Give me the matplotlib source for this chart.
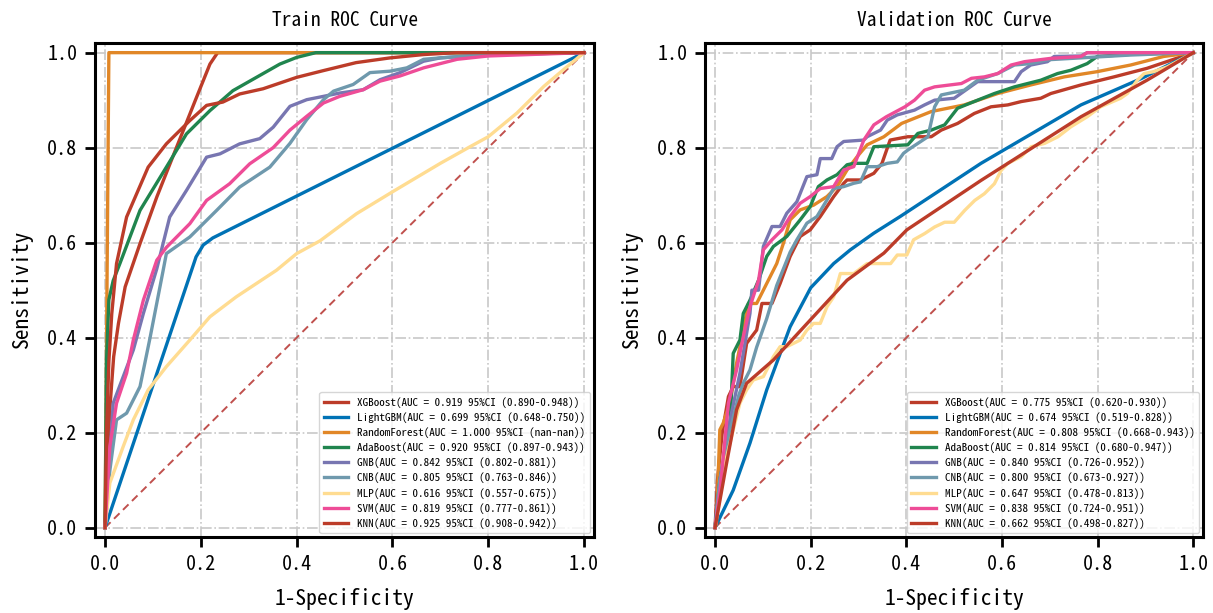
import matplotlib
matplotlib.use("Agg")
import matplotlib.pyplot as plt

# ---------------- data ----------------
models = ["XGBoost", "LightGBM", "RandomForest", "AdaBoost", "GNB", "CNB", "MLP", "SVM", "KNN"]
colors = ["#BC3C29", "#0072B5", "#E18727", "#20854E", "#7876B1", "#6F99AD", "#FFDC91", "#EE4C97", "#BC3C29"]

train_auc = ["0.919", "0.699", "1.000", "0.920", "0.842", "0.805", "0.616", "0.819", "0.925"]
train_ci = ["0.890-0.948", "0.648-0.750", "nan-nan", "0.897-0.943", "0.802-0.881",
            "0.763-0.846", "0.557-0.675", "0.777-0.861", "0.908-0.942"]
val_auc = ["0.775", "0.674", "0.808", "0.814", "0.840", "0.800", "0.647", "0.838", "0.662"]
val_ci = ["0.620-0.930", "0.519-0.828", "0.668-0.943", "0.680-0.947", "0.726-0.952",
          "0.673-0.927", "0.478-0.813", "0.724-0.951", "0.498-0.827"]

# ---- train curves ----
tr_xgb_fpr = [0, 0.004, 0.01, 0.018, 0.028, 0.042, 0.073, 0.108, 0.149, 0.191, 0.219, 0.235, 1]
tr_xgb_tpr = [0, 0.12, 0.25, 0.36, 0.43, 0.507, 0.598, 0.696, 0.80, 0.906, 0.976, 1, 1]
tr_lgb_fpr = [0, 0.19, 0.205, 0.225, 1]
tr_lgb_tpr = [0, 0.57, 0.595, 0.61, 1]
tr_rf_fpr = [0, 0.008, 1]
tr_rf_tpr = [0, 1, 1]
tr_ada_fpr = [0, 0.003, 0.008, 0.017, 0.031, 0.073, 0.128, 0.17, 0.219, 0.267, 0.316, 0.365, 0.40, 0.44, 1]
tr_ada_tpr = [0, 0.35, 0.48, 0.52, 0.556, 0.668, 0.759, 0.829, 0.878, 0.92, 0.948, 0.976, 0.99, 1, 1]
tr_gnb_fpr = [0, 0.007, 0.017, 0.038, 0.059, 0.08, 0.108, 0.135, 0.17, 0.212, 0.24, 0.281, 0.323, 0.351,
              0.386, 0.421, 0.456, 0.49, 0.539, 0.574, 0.616, 0.665, 0.70, 0.80, 1]
tr_gnb_tpr = [0, 0.10, 0.262, 0.318, 0.374, 0.451, 0.545, 0.654, 0.71, 0.78, 0.787, 0.808, 0.819, 0.843,
              0.887, 0.901, 0.908, 0.915, 0.922, 0.943, 0.958, 0.982, 0.989, 0.996, 1]
tr_cnb_fpr = [0, 0.01, 0.024, 0.045, 0.073, 0.094, 0.121, 0.128, 0.177, 0.233, 0.281, 0.344, 0.386, 0.421,
              0.456, 0.477, 0.518, 0.553, 0.595, 0.63, 0.665, 0.70, 0.804, 1]
tr_cnb_tpr = [0, 0.12, 0.227, 0.241, 0.297, 0.40, 0.54, 0.577, 0.612, 0.668, 0.717, 0.759, 0.809, 0.859,
              0.901, 0.919, 0.933, 0.958, 0.961, 0.968, 0.986, 0.989, 0.996, 1]
tr_mlp_fpr = [0, 0.01, 0.038, 0.059, 0.09, 0.128, 0.177, 0.219, 0.274, 0.358, 0.40, 0.449, 0.525, 0.60,
              0.70, 0.762, 0.80, 0.86, 0.916, 0.958, 1]
tr_mlp_tpr = [0, 0.094, 0.171, 0.227, 0.29, 0.339, 0.395, 0.444, 0.486, 0.542, 0.577, 0.604, 0.661, 0.707,
              0.767, 0.802, 0.823, 0.873, 0.929, 0.965, 1]
tr_svm_fpr = [0, 0.01, 0.024, 0.045, 0.059, 0.08, 0.108, 0.128, 0.177, 0.212, 0.26, 0.302, 0.351, 0.386,
              0.421, 0.456, 0.49, 0.539, 0.574, 0.616, 0.665, 0.735, 0.80, 1]
tr_svm_tpr = [0, 0.171, 0.262, 0.325, 0.395, 0.479, 0.563, 0.59, 0.64, 0.689, 0.724, 0.766, 0.80, 0.837,
              0.866, 0.894, 0.908, 0.922, 0.94, 0.951, 0.968, 0.986, 0.993, 1]
tr_knn_fpr = [0, 0.003, 0.008, 0.014, 0.024, 0.045, 0.09, 0.128, 0.177, 0.212, 0.246, 0.281, 0.33, 0.40,
              0.455, 0.524, 0.595, 0.665, 0.735, 1]
tr_knn_tpr = [0, 0.2, 0.35, 0.45, 0.556, 0.654, 0.759, 0.808, 0.857, 0.889, 0.896, 0.913, 0.924, 0.948,
              0.962, 0.979, 0.989, 0.996, 1, 1]

# ---- validation curves ----
va_xgb_fpr = [0, 0.005, 0.015, 0.028, 0.038, 0.052, 0.066, 0.087, 0.098, 0.119, 0.136, 0.157, 0.178, 0.199,
              0.220, 0.248, 0.269, 0.276, 0.304, 0.332, 0.349, 0.366, 0.403, 0.452, 0.473, 0.507, 0.542,
              0.577, 0.612, 0.64, 0.681, 0.702, 0.765, 0.834, 0.903, 1]
va_xgb_tpr = [0, 0.1, 0.2, 0.276, 0.297, 0.297, 0.388, 0.416, 0.472, 0.472, 0.514, 0.571, 0.613, 0.627,
              0.655, 0.697, 0.725, 0.732, 0.732, 0.746, 0.767, 0.816, 0.823, 0.823, 0.837, 0.851, 0.872,
              0.886, 0.890, 0.897, 0.904, 0.914, 0.932, 0.949, 0.967, 1]
va_lgb_fpr = [0, 0.038, 0.073, 0.108, 0.157, 0.2, 0.248, 0.283, 0.332, 0.387, 0.556, 0.765, 0.89, 1]
va_lgb_tpr = [0, 0.079, 0.178, 0.29, 0.423, 0.505, 0.556, 0.585, 0.620, 0.655, 0.767, 0.89, 0.945, 1]
va_rf_fpr = [0, 0.003, 0.010, 0.017, 0.031, 0.045, 0.059, 0.070, 0.087, 0.108, 0.129, 0.143, 0.157, 0.178,
             0.206, 0.234, 0.255, 0.276, 0.297, 0.318, 0.353, 0.39, 0.452, 0.521, 0.591, 0.66, 0.73, 0.799,
             0.869, 0.938, 1]
va_rf_tpr = [0, 0.009, 0.206, 0.22, 0.262, 0.346, 0.416, 0.472, 0.472, 0.514, 0.556, 0.599, 0.648, 0.669,
             0.679, 0.697, 0.718, 0.753, 0.781, 0.806, 0.823, 0.851, 0.876, 0.89, 0.914, 0.932, 0.949, 0.96,
             0.974, 0.992, 1]
va_ada_fpr = [0, 0.01, 0.031, 0.038, 0.052, 0.059, 0.073, 0.091, 0.108, 0.122, 0.150, 0.178, 0.199, 0.216,
              0.234, 0.255, 0.276, 0.290, 0.318, 0.332, 0.403, 0.424, 0.452, 0.48, 0.507, 0.549, 0.584,
              0.626, 0.681, 0.716, 0.744, 0.778, 0.799, 0.876, 1]
va_ada_tpr = [0, 0.1, 0.206, 0.367, 0.395, 0.451, 0.479, 0.521, 0.571, 0.592, 0.613, 0.648, 0.676, 0.718,
              0.732, 0.743, 0.764, 0.767, 0.767, 0.802, 0.806, 0.83, 0.837, 0.848, 0.883, 0.9, 0.914,
              0.928, 0.942, 0.956, 0.963, 0.977, 0.992, 0.997, 1]
va_gnb_fpr = [0, 0.01, 0.03, 0.052, 0.073, 0.077, 0.091, 0.101, 0.119, 0.136, 0.150, 0.171, 0.192, 0.213,
              0.220, 0.244, 0.255, 0.269, 0.311, 0.318, 0.346, 0.36, 0.381, 0.417, 0.438, 0.459, 0.5, 0.549,
              0.626, 0.64, 0.66, 0.695, 0.709, 0.765, 0.778, 1]
va_gnb_tpr = [0, 0.1, 0.22, 0.325, 0.451, 0.5, 0.5, 0.592, 0.634, 0.634, 0.662, 0.686, 0.739, 0.743,
              0.777, 0.777, 0.802, 0.813, 0.816, 0.823, 0.837, 0.858, 0.869, 0.879, 0.89, 0.9, 0.904, 0.939,
              0.939, 0.96, 0.974, 0.981, 0.992, 0.993, 1, 1]
va_cnb_fpr = [0, 0.01, 0.03, 0.05, 0.059, 0.073, 0.087, 0.108, 0.129, 0.157, 0.171, 0.192, 0.213, 0.234,
              0.248, 0.269, 0.290, 0.304, 0.318, 0.339, 0.360, 0.381, 0.394, 0.403, 0.445, 0.459, 0.473,
              0.521, 0.549, 0.591, 0.626, 0.66, 0.695, 0.869, 1]
va_cnb_tpr = [0, 0.1, 0.2, 0.28, 0.304, 0.332, 0.38, 0.44, 0.51, 0.58, 0.606, 0.641, 0.655, 0.69, 0.714,
              0.718, 0.725, 0.728, 0.76, 0.76, 0.767, 0.77, 0.788, 0.795, 0.823, 0.886, 0.911, 0.921, 0.942,
              0.956, 0.974, 0.977, 0.985, 0.995, 1]
va_mlp_fpr = [0, 0.0105, 0.021, 0.038, 0.052, 0.066, 0.080, 0.101, 0.122, 0.136, 0.150, 0.178, 0.192,
              0.206, 0.220, 0.234, 0.248, 0.262, 0.290, 0.318, 0.367, 0.381, 0.401, 0.415, 0.438, 0.459,
              0.48, 0.5, 0.522, 0.543, 0.563, 0.584, 0.598, 0.612, 0.64, 0.661, 0.689, 0.717, 0.744, 0.778,
              0.806, 0.848, 0.862, 0.883, 0.897, 0.917, 0.945, 1]
va_mlp_tpr = [0, 0.065, 0.135, 0.206, 0.262, 0.29, 0.311, 0.318, 0.36, 0.381, 0.381, 0.395, 0.416, 0.43,
              0.43, 0.465, 0.486, 0.535, 0.535, 0.556, 0.556, 0.574, 0.574, 0.606, 0.619, 0.633, 0.643,
              0.643, 0.668, 0.689, 0.703, 0.724, 0.752, 0.767, 0.781, 0.802, 0.809, 0.823, 0.844, 0.865,
              0.886, 0.904, 0.914, 0.942, 0.956, 0.96, 0.97, 1]
va_svm_fpr = [0, 0.0105, 0.028, 0.045, 0.059, 0.073, 0.091, 0.101, 0.119, 0.140, 0.157, 0.178, 0.199,
              0.220, 0.248, 0.269, 0.290, 0.311, 0.332, 0.358, 0.397, 0.417, 0.438, 0.459, 0.515, 0.536,
              0.563, 0.591, 0.619, 0.647, 0.702, 0.765, 0.778, 1]
va_svm_tpr = [0, 0.079, 0.262, 0.332, 0.402, 0.465, 0.521, 0.585, 0.606, 0.627, 0.655, 0.683, 0.697, 0.714,
              0.718, 0.753, 0.760, 0.816, 0.848, 0.865, 0.886, 0.9, 0.921, 0.928, 0.935, 0.946, 0.949,
              0.956, 0.974, 0.981, 0.988, 0.992, 1, 1]
va_knn_fpr = [0, 0.024, 0.045, 0.066, 0.122, 0.199, 0.276, 0.353, 0.401, 0.556, 0.765, 0.903, 1]
va_knn_tpr = [0, 0.135, 0.248, 0.304, 0.353, 0.437, 0.521, 0.578, 0.627, 0.731, 0.865, 0.942, 1]

train_curves = [(tr_xgb_fpr, tr_xgb_tpr), (tr_lgb_fpr, tr_lgb_tpr), (tr_rf_fpr, tr_rf_tpr),
                (tr_ada_fpr, tr_ada_tpr), (tr_gnb_fpr, tr_gnb_tpr), (tr_cnb_fpr, tr_cnb_tpr),
                (tr_mlp_fpr, tr_mlp_tpr), (tr_svm_fpr, tr_svm_tpr), (tr_knn_fpr, tr_knn_tpr)]
val_curves = [(va_xgb_fpr, va_xgb_tpr), (va_lgb_fpr, va_lgb_tpr), (va_rf_fpr, va_rf_tpr),
              (va_ada_fpr, va_ada_tpr), (va_gnb_fpr, va_gnb_tpr), (va_cnb_fpr, va_cnb_tpr),
              (va_mlp_fpr, va_mlp_tpr), (va_svm_fpr, va_svm_tpr), (va_knn_fpr, va_knn_tpr)]

ticks = [0.0, 0.2, 0.4, 0.6, 0.8, 1.0]
tick_labels = ["0.0", "0.2", "0.4", "0.6", "0.8", "1.0"]

# ---------------- plot ----------------
plt.rcParams['font.family'] = ['Noto Sans Mono CJK SC', 'DejaVu Sans Mono']

fig = plt.figure(figsize=(12.13, 6.13), dpi=100)
ax1 = fig.add_axes([0.0787, 0.1237, 0.4107, 0.8059])
ax2 = fig.add_axes([0.5816, 0.1237, 0.4101, 0.8059])


def draw(ax, curves, aucs, cis, title):
    for name, col, (fx, ty), a, c in zip(models, colors, curves, aucs, cis):
        ax.plot(fx, ty, color=col, lw=2.4, label=f"{name}(AUC = {a} 95%CI ({c}))", zorder=3)
    ax.plot([0, 1], [0, 1], linestyle=(0, (4, 2.5)), color="#C0504D", lw=1.4, zorder=2)
    ax.set_xlim(-0.02, 1.02)
    ax.set_ylim(-0.02, 1.02)
    ax.set_xticks(ticks)
    ax.set_xticklabels(tick_labels)
    ax.set_yticks(ticks)
    ax.set_yticklabels(tick_labels)
    ax.grid(True, linestyle="-.", color="#c8c8c8", lw=1.2, zorder=0)
    for s in ax.spines.values():
        s.set_linewidth(2.2)
    ax.tick_params(direction="out", length=7, width=2.0, labelsize=14.5, pad=6)
    ax.set_title(title, fontsize=14, pad=12)
    ax.set_xlabel("1-Specificity", fontsize=15.5, labelpad=10)
    ax.set_ylabel("Sensitivity", fontsize=15.5, labelpad=10)
    leg = ax.legend(loc="lower right", fontsize=8.0, frameon=True, borderaxespad=0.35,
                    handlelength=2.2, labelspacing=0.38, fancybox=True)
    leg.get_frame().set_edgecolor("#cccccc")
    leg.get_frame().set_linewidth(1.0)


draw(ax1, train_curves, train_auc, train_ci, "Train ROC Curve")
draw(ax2, val_curves, val_auc, val_ci, "Validation ROC Curve")

fig.savefig("out.png", dpi=100)
